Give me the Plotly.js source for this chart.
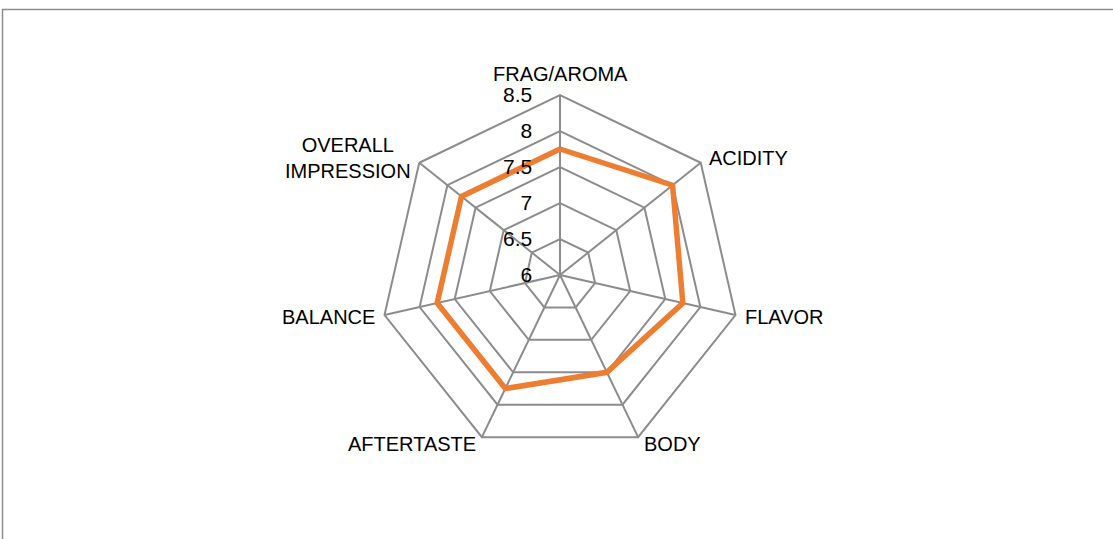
<!DOCTYPE html>
<html><head><meta charset="utf-8">
<script src="https://cdn.plot.ly/plotly-3.0.1.min.js"></script>
<style>html,body{margin:0;padding:0;background:#fff;}#chart{width:1113px;height:539px;}</style>
</head><body><div id="chart"></div>
<script>
const categories = ["FRAG/AROMA", "ACIDITY", "FLAVOR", "BODY", "AFTERTASTE", "BALANCE", "OVERALL<br>IMPRESSION"];
const scores = [7.75, 8.0, 7.75, 7.5, 7.75, 7.75, 7.75];
const radialTicks = [6, 6.5, 7, 7.5, 8, 8.5];
const radialTickText = ["6", "6.5", "7", "7.5", "8", "8.5"];

const W = 1113, H = 539, cx = 560, cy = 275, R = 180;
const fontFam = "Liberation Sans, Arial, sans-serif";
const trace = {
  type: "scatterpolar",
  r: scores.concat([scores[0]]),
  theta: categories.concat([categories[0]]),
  mode: "lines",
  line: {color: "#ED7D31", width: 5.5},
  hoverinfo: "skip"
};

// category labels placed just outside each polygon vertex
const pad = 8;
const annotations = categories.map((c, i) => {
  const a = 2 * Math.PI * i / categories.length;
  const s = Math.sin(a), co = Math.cos(a);
  const px = cx + (R + pad) * s, py = cy - (R + pad) * co;
  let xa = "center", ya = "middle";
  if (s > 0.1) xa = "left"; else if (s < -0.1) xa = "right";
  if (Math.abs(s) <= 0.1) ya = co > 0 ? "bottom" : "top";
  return {
    xref: "paper", yref: "paper", x: px / W, y: (H - py) / H,
    xanchor: xa, yanchor: ya, text: c, showarrow: false, align: "center",
    font: {family: fontFam, size: 20, color: "#000"}
  };
});

const layout = {
  width: W, height: H,
  margin: {l: 0, r: 0, t: 0, b: 0},
  paper_bgcolor: "#fff",
  showlegend: false,
  annotations: annotations,
  polar: {
    domain: {x: [(cx - R) / W, (cx + R) / W], y: [(H - cy - R) / H, (H - cy + R) / H]},
    gridshape: "linear",
    bgcolor: "rgba(0,0,0,0)",
    radialaxis: {
      range: [6, 8.5], tickvals: radialTicks, ticktext: radialTickText,
      angle: 90, tickangle: 90, side: "counterclockwise",
      showline: false, gridcolor: "#8c8c8c", gridwidth: 2,
      ticks: "outside", ticklen: 20, tickcolor: "rgba(0,0,0,0)",
      tickfont: {family: fontFam, size: 21, color: "#000"}
    },
    angularaxis: {
      direction: "clockwise", rotation: 90,
      linecolor: "#8c8c8c", linewidth: 2,
      gridcolor: "#8c8c8c", gridwidth: 2,
      ticks: "", showticklabels: false
    }
  },
  shapes: [{
    type: "rect", xref: "paper", yref: "paper",
    x0: 2.5 / W, x1: 1.2, y0: -0.2, y1: (H - 9.5) / H,
    line: {color: "#8c8c8c", width: 1.5}
  }]
};
Plotly.newPlot("chart", [trace], layout, {displayModeBar: false, staticPlot: true});
</script></body></html>
